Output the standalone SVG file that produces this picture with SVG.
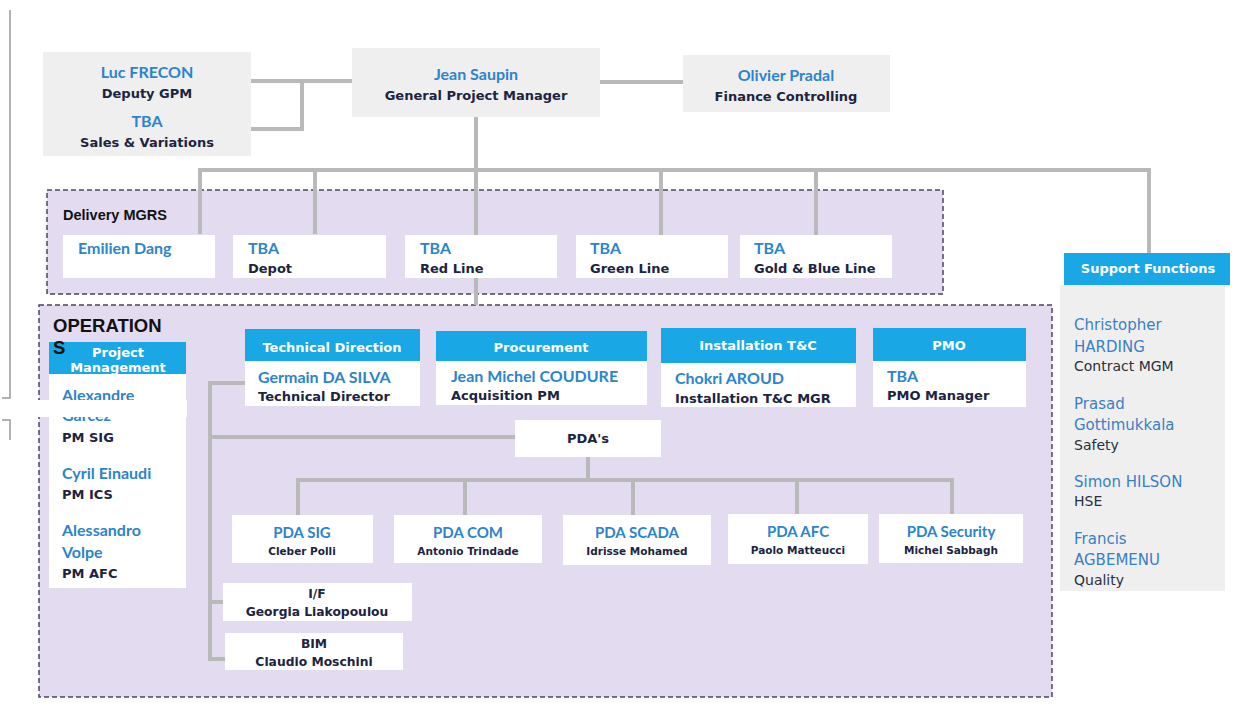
<svg xmlns="http://www.w3.org/2000/svg" width="1247" height="713" viewBox="0 0 1247 713">
<style>
.region{fill:#e3dbf0;stroke:#4f4360;stroke-width:1.5;stroke-dasharray:5 3}
.gbox{fill:#efeff0}
.wbox{fill:#ffffff}
.hdr{fill:#19a8e5}
.conn{fill:none;stroke:#b9b9b9;stroke-width:4}
.name{font-family:Lato,"Liberation Sans",sans-serif;font-weight:bold;font-size:16px;fill:#2b84cc}
.pname{font-family:Lato,"Liberation Sans",sans-serif;font-weight:bold;font-size:15px;fill:#2b84cc}
.lbl{font-family:"DejaVu Sans",sans-serif;font-weight:bold;font-size:13px;fill:#1c2440}
.slbl{font-family:"DejaVu Sans",sans-serif;font-weight:bold;font-size:10.5px;fill:#1c2440}
.mlbl{font-family:"DejaVu Sans",sans-serif;font-weight:bold;font-size:12.3px;fill:#1c2440}
.htxt{font-family:"DejaVu Sans",sans-serif;font-weight:bold;font-size:13px;fill:#ffffff}
.sname{font-family:"DejaVu Sans",sans-serif;font-size:15px;fill:#3a7fc2}
.srole{font-family:"DejaVu Sans",sans-serif;font-size:14px;fill:#2a2f3c}
.title{font-family:"Liberation Sans",Arial,sans-serif;font-weight:bold;fill:#111111}
.mid{text-anchor:middle}
</style>
<defs>
<clipPath id="pmclip"><rect x="49" y="342" width="137" height="32"/></clipPath>
</defs>

<!-- stray left line -->
<g id="edge-marks" fill="none" stroke="#9a9a9a" stroke-width="1.5">
<path d="M10,10 V398 H2"/>
<path d="M2,420 H10 V440"/>
</g>

<!-- regions -->
<g id="delivery-region">
<rect class="region" x="47" y="190" width="896" height="104"/>
<text class="title" x="63" y="220" font-size="14.5">Delivery MGRS</text>
</g>
<g id="operations-region">
<rect class="region" x="39" y="305" width="1013" height="392"/>
</g>

<!-- connectors -->
<g id="connectors" class="conn">
<path d="M250,81 H352"/>
<path d="M302,81 V129 H250"/>
<path d="M600,82 H683"/>
<path d="M476,117 V305"/>
<path d="M200,234 V170 H1149 V253"/>
<path d="M315,170 V234"/>
<path d="M661,170 V236"/>
<path d="M816,170 V236"/>
<path d="M245,383 H210 V659 H225"/>
<path d="M210,437 H515"/>
<path d="M210,602 H223"/>
<path d="M588,456 V480"/>
<path d="M298,515 V480 H952 V515"/>
<path d="M465,480 V515"/>
<path d="M633,480 V515"/>
<path d="M797,480 V515"/>
</g>

<!-- top level -->
<g id="luc-frecon">
<rect class="gbox" x="43" y="52" width="208" height="104"/>
<text class="name mid" x="147" y="78" font-size="15">Luc FRECON</text>
<text class="lbl mid" x="147" y="98">Deputy GPM</text>
<text class="name mid" x="147" y="127" font-size="15">TBA</text>
<text class="lbl mid" x="147" y="147">Sales &amp; Variations</text>
</g>
<g id="jean-saupin">
<rect class="gbox" x="352" y="48" width="248" height="69"/>
<text class="name mid" x="476" y="80">Jean Saupin</text>
<text class="lbl mid" x="476" y="100">General Project Manager</text>
</g>
<g id="olivier-pradal">
<rect class="gbox" x="683" y="55" width="207" height="57"/>
<text class="name mid" x="786" y="81">Olivier Pradal</text>
<text class="lbl mid" x="786" y="101">Finance Controlling</text>
</g>

<!-- delivery managers -->
<g id="emilien-dang">
<rect class="wbox" x="63" y="235" width="152" height="43"/>
<text class="name" x="78" y="254">Emilien Dang</text>
</g>
<g id="tba-depot">
<rect class="wbox" x="233" y="235" width="153" height="43"/>
<text class="name" x="248" y="254">TBA</text>
<text class="lbl" x="248" y="273">Depot</text>
</g>
<g id="tba-red-line">
<rect class="wbox" x="405" y="235" width="152" height="43"/>
<text class="name" x="420" y="254">TBA</text>
<text class="lbl" x="420" y="273">Red Line</text>
</g>
<g id="tba-green-line">
<rect class="wbox" x="576" y="235" width="152" height="43"/>
<text class="name" x="590" y="254">TBA</text>
<text class="lbl" x="590" y="273">Green Line</text>
</g>
<g id="tba-gold-blue">
<rect class="wbox" x="740" y="235" width="152" height="43"/>
<text class="name" x="754" y="254">TBA</text>
<text class="lbl" x="754" y="273">Gold &amp; Blue Line</text>
</g>

<!-- support functions -->
<g id="support-functions">
<rect class="gbox" x="1060" y="285" width="165" height="306"/>
<rect class="hdr" x="1064" y="253" width="166" height="32"/>
<text class="htxt mid" x="1148" y="273">Support Functions</text>
<text class="sname" x="1074" y="330">Christopher</text>
<text class="sname" x="1074" y="352">HARDING</text>
<text class="srole" x="1074" y="371">Contract MGM</text>
<text class="sname" x="1074" y="409">Prasad</text>
<text class="sname" x="1074" y="430">Gottimukkala</text>
<text class="srole" x="1074" y="450">Safety</text>
<text class="sname" x="1074" y="487">Simon HILSON</text>
<text class="srole" x="1074" y="506">HSE</text>
<text class="sname" x="1074" y="544">Francis</text>
<text class="sname" x="1074" y="565">AGBEMENU</text>
<text class="srole" x="1074" y="585">Quality</text>
</g>

<!-- project management -->
<g id="project-management">
<rect class="wbox" x="49" y="374" width="137" height="214"/>
<rect class="hdr" x="49" y="342" width="137" height="32"/>
<g clip-path="url(#pmclip)">
<text class="htxt mid" x="118" y="357">Project</text>
<text class="htxt mid" x="118" y="372">Management</text>
</g>
<text class="name" x="62" y="401">Alexandre</text>
<text class="name" x="62" y="421">Garcez</text>
<text class="lbl" x="62" y="442">PM SIG</text>
<text class="name" x="62" y="479">Cyril Einaudi</text>
<text class="lbl" x="62" y="499">PM ICS</text>
<text class="name" x="62" y="536">Alessandro</text>
<text class="name" x="62" y="558">Volpe</text>
<text class="lbl" x="62" y="578">PM AFC</text>
</g>

<g id="operations-title">
<text class="title" x="53" y="332" font-size="18.5">OPERATION</text>
<text class="title" x="53" y="354" font-size="18.5">S</text>
</g>

<!-- operations heads -->
<g id="technical-direction">
<rect class="hdr" x="245" y="329" width="175" height="32"/>
<rect class="wbox" x="245" y="361" width="175" height="45"/>
<text class="htxt mid" x="332" y="352">Technical Direction</text>
<text class="name" x="258" y="383">Germain DA SILVA</text>
<text class="lbl" x="258" y="401">Technical Director</text>
</g>
<g id="procurement">
<rect class="hdr" x="436" y="331" width="211" height="30"/>
<rect class="wbox" x="436" y="361" width="211" height="44"/>
<text class="htxt mid" x="541" y="352">Procurement</text>
<text class="name" x="451" y="382">Jean Michel COUDURE</text>
<text class="lbl" x="451" y="400">Acquisition PM</text>
</g>
<g id="installation-tc">
<rect class="hdr" x="661" y="328" width="195" height="35"/>
<rect class="wbox" x="661" y="363" width="195" height="44"/>
<text class="htxt mid" x="758" y="350">Installation T&amp;C</text>
<text class="name" x="675" y="384">Chokri AROUD</text>
<text class="lbl" x="675" y="403">Installation T&amp;C MGR</text>
</g>
<g id="pmo">
<rect class="hdr" x="873" y="328" width="153" height="33"/>
<rect class="wbox" x="873" y="361" width="153" height="46"/>
<text class="htxt mid" x="949" y="350">PMO</text>
<text class="name" x="887" y="382">TBA</text>
<text class="lbl" x="887" y="400">PMO Manager</text>
</g>

<g id="pdas">
<rect class="wbox" x="515" y="420" width="146" height="37"/>
<text class="lbl mid" x="588" y="443">PDA's</text>
</g>

<g id="pda-sig">
<rect class="wbox" x="232" y="515" width="141" height="48"/>
<text class="pname mid" x="302" y="538">PDA SIG</text>
<text class="slbl mid" x="302" y="555">Cleber Polli</text>
</g>
<g id="pda-com">
<rect class="wbox" x="394" y="515" width="148" height="48"/>
<text class="pname mid" x="468" y="538">PDA COM</text>
<text class="slbl mid" x="468" y="555">Antonio Trindade</text>
</g>
<g id="pda-scada">
<rect class="wbox" x="563" y="515" width="148" height="50"/>
<text class="pname mid" x="637" y="538">PDA SCADA</text>
<text class="slbl mid" x="637" y="555">Idrisse Mohamed</text>
</g>
<g id="pda-afc">
<rect class="wbox" x="728" y="514" width="140" height="50"/>
<text class="pname mid" x="798" y="537">PDA AFC</text>
<text class="slbl mid" x="798" y="554">Paolo Matteucci</text>
</g>
<g id="pda-security">
<rect class="wbox" x="879" y="514" width="144" height="49"/>
<text class="pname mid" x="951" y="537">PDA Security</text>
<text class="slbl mid" x="951" y="554">Michel Sabbagh</text>
</g>

<g id="if">
<rect class="wbox" x="223" y="583" width="189" height="38"/>
<text class="mlbl mid" x="317" y="598">I/F</text>
<text class="mlbl mid" x="317" y="616">Georgia Liakopoulou</text>
</g>
<g id="bim">
<rect class="wbox" x="225" y="633" width="178" height="37"/>
<text class="mlbl mid" x="314" y="648">BIM</text>
<text class="mlbl mid" x="314" y="666">Claudio Moschini</text>
</g>

<!-- white band cutting the left edge -->
<rect x="0" y="400" width="187" height="17" fill="#ffffff"/>
</svg>
